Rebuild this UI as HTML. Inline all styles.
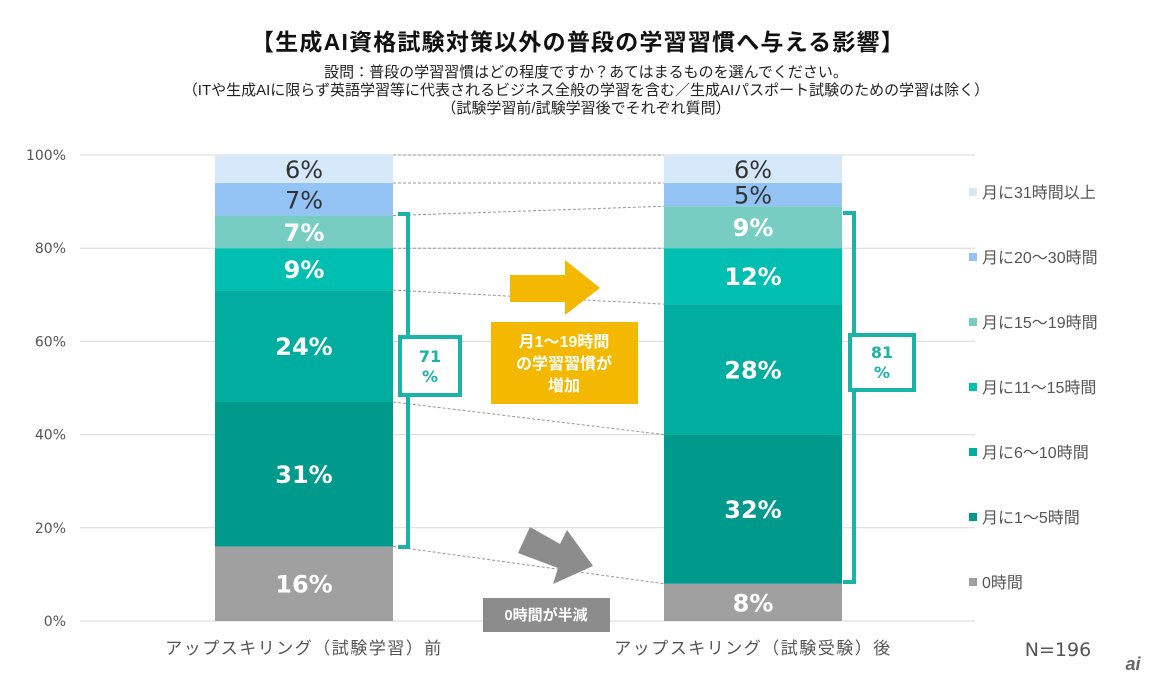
<!DOCTYPE html>
<html><head><meta charset="utf-8">
<style>
body{margin:0;background:#fff;font-family:"Liberation Sans","Noto Sans CJK JP",sans-serif;}
svg text{font-family:"Liberation Sans","Noto Sans CJK JP",sans-serif;}
svg text.num{font-family:"DejaVu Sans","Noto Sans CJK JP",sans-serif;}
</style></head>
<body>
<svg width="1152" height="681" viewBox="0 0 1152 681" xmlns="http://www.w3.org/2000/svg" id="chart">
<text x="578" y="50" text-anchor="middle" font-size="23" font-weight="bold" fill="#111" letter-spacing="1.2">【生成AI資格試験対策以外の普段の学習習慣へ与える影響】</text>
<text x="586" y="77" text-anchor="middle" font-size="15" fill="#222">設問：普段の学習習慣はどの程度ですか？あてはまるものを選んでください。</text>
<text x="586" y="95" text-anchor="middle" font-size="15" fill="#222">（ITや生成AIに限らず英語学習等に代表されるビジネス全般の学習を含む／生成AIパスポート試験のための学習は除く）</text>
<text x="586" y="113" text-anchor="middle" font-size="15" fill="#222">（試験学習前/試験学習後でそれぞれ質問）</text>
<g id="grid"></g>
<g id="links"></g>
<g id="bars"></g>
<g id="legend"></g>
<path d="M398 214 H408 V547 H398" fill="none" stroke="#1ab3a6" stroke-width="4"/>
<rect x="400" y="337" width="60" height="58" fill="#fff" stroke="#1ab3a6" stroke-width="4"/>
<text class="num" x="430" y="362" text-anchor="middle" font-size="16" font-weight="bold" fill="#1ab3a6">71</text>
<text class="num" x="430" y="382" text-anchor="middle" font-size="16" font-weight="bold" fill="#1ab3a6">%</text>
<path d="M843 213 H854 V582 H843" fill="none" stroke="#1ab3a6" stroke-width="4"/>
<rect x="850" y="335" width="64" height="55" fill="#fff" stroke="#1ab3a6" stroke-width="4"/>
<text class="num" x="882" y="358" text-anchor="middle" font-size="16" font-weight="bold" fill="#1ab3a6">81</text>
<text class="num" x="882" y="378" text-anchor="middle" font-size="16" font-weight="bold" fill="#1ab3a6">%</text>
<polygon points="510,275 565,275 565,260 600,288 565,315 565,302 510,302" fill="#f5b800"/>
<rect x="491" y="322" width="147" height="82" fill="#f5b800"/>
<text x="564" y="347" text-anchor="middle" font-size="16" font-weight="bold" fill="#fff">月1～19時間</text>
<text x="564" y="369" text-anchor="middle" font-size="16" font-weight="bold" fill="#fff">の学習習慣が</text>
<text x="564" y="391" text-anchor="middle" font-size="16" font-weight="bold" fill="#fff">増加</text>
<polygon points="530,527 560,544 567,530 593,566 553,584 558,568 518,553" fill="#8c8c8c"/>
<rect x="483" y="598" width="127" height="34" fill="#8c8c8c"/>
<text x="546" y="620" text-anchor="middle" font-size="15" font-weight="bold" fill="#fff">0時間が半減</text>
<text x="304" y="654" text-anchor="middle" font-size="17" fill="#555" letter-spacing="1.5">アップスキリング（試験学習）前</text>
<text x="753" y="654" text-anchor="middle" font-size="17" fill="#555" letter-spacing="1.5">アップスキリング（試験受験）後</text>
<text class="num" x="1058" y="656" text-anchor="middle" font-size="19" fill="#555">N=196</text>
<text x="1133" y="670" text-anchor="middle" font-size="18" font-style="italic" font-weight="bold" fill="#666">ai</text>
</svg>
<script>
const categories = ["before","after"];
const seriesNames = ["0時間","月に1～5時間","月に6～10時間","月に11～15時間","月に15～19時間","月に20～30時間","月に31時間以上"];
const valuesBefore = [16,31,24,9,7,7,6];
const valuesAfter = [8,32,28,12,9,5,6];
const yTicks = [0,20,40,60,80,100];
const colors = ["#a0a0a0","#009a8d","#00ad9e","#00bfb0","#77cdc1","#93c4f5","#d6e9fb"];
const NS="http://www.w3.org/2000/svg";
const Y0=621, Y100=155;
const y = v => Y0 - (v/100)*(Y0-Y100);
const barX = [215,664], barW=178;
function mk(tag, attrs, parent){const e=document.createElementNS(NS,tag);for(const k in attrs)e.setAttribute(k,attrs[k]);parent.appendChild(e);return e;}
const grid=document.getElementById('grid');
yTicks.forEach(t=>{
  const l=mk('line',{x1:80,x2:975,y1:y(t),y2:y(t),stroke:'#d9d9d9','stroke-width':1},grid);
  
  
  const tx=mk('text',{x:66,y:y(t)+5,'text-anchor':'end','font-size':14,fill:'#555','class':'num'},grid);
  tx.textContent=t+'%';
  
  
});
const bars=document.getElementById('bars');
const links=document.getElementById('links');
const all=[valuesBefore,valuesAfter];
const cums=all.map(vals=>{let c=0;return vals.map(v=>(c+=v));});
all.forEach((vals,bi)=>{
  let c=0;
  vals.forEach((v,i)=>{
    const top=y(c+v), bot=y(c);
    const r=mk('rect',{x:barX[bi],y:top,width:barW,height:bot-top,fill:colors[i]},bars);
    
    
    const t=mk('text',{x:barX[bi]+barW/2,y:(top+bot)/2+9,'text-anchor':'middle','font-size':i>=5?24:24,'font-weight':i>=5?'normal':'bold',fill:i>=5?'#333':'#fff','class':'num'},bars);
    t.textContent=v+'%';
    
    
    c+=v;
  });
});
for(let i=0;i<seriesNames.length;i++){
  const l=mk('line',{x1:barX[0]+barW,x2:barX[1],y1:y(cums[0][i]),y2:y(cums[1][i]),stroke:'#999','stroke-width':1,'stroke-dasharray':'3,2'},links);
  
  
}
const legend=document.getElementById('legend');
seriesNames.forEach((n,i)=>{
  const yy=583-i*65;
  const s=mk('rect',{x:969,y:yy-5,width:8,height:8,fill:colors[i]},legend);
  
  
  const t=mk('text',{x:982,y:yy+5,'font-size':16,fill:'#555'},legend);
  t.textContent=n;
  
  
});
</script>
</body></html>
